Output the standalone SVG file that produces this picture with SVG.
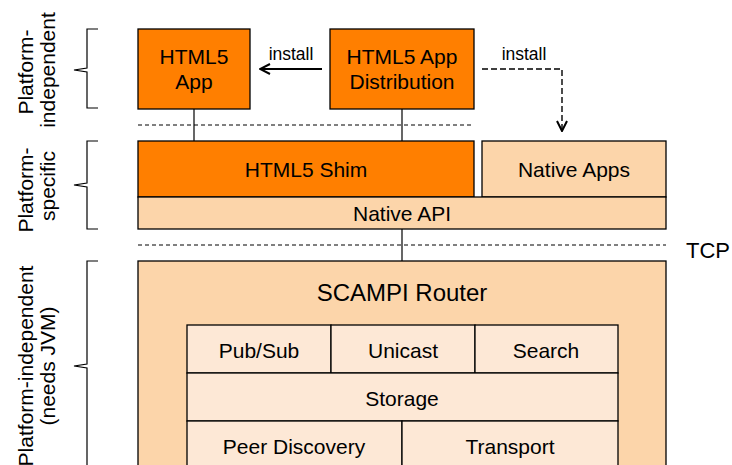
<svg xmlns="http://www.w3.org/2000/svg" width="732" height="465" viewBox="0 0 732 465">
<defs>
<style>
text{font-family:"Liberation Sans",Arial,sans-serif;fill:#000;text-anchor:middle}
.t{font-size:21px}
.b{font-size:24px}
.s{font-size:17.5px}
.or{fill:#FF7F00;stroke:#000;stroke-width:1.3}
.pe{fill:#FCD5AA;stroke:#000;stroke-width:1.3}
.li{fill:#FDE8D6;stroke:#000;stroke-width:1.3}
.ln{stroke:#000;stroke-width:1.2;fill:none}
.dsh{stroke:#000;stroke-width:1;stroke-dasharray:4 3;fill:none}
.br{stroke:#000;stroke-width:1.2;fill:none}
</style>
<marker id="ah" viewBox="0 0 12 12" refX="11" refY="6" markerWidth="12" markerHeight="12" markerUnits="userSpaceOnUse" orient="auto">
<path d="M1,1 L11,6 L1,11" fill="none" stroke="#000" stroke-width="2"/>
</marker>
</defs>
<rect width="732" height="465" fill="#fff"/>

<g id="labels">
<path class="br" d="M98,29 H87 V68 L74,70 L87,72 V108 H98"/>
<text class="t" transform="translate(33,72) rotate(-90)">Platform-</text>
<text class="t" transform="translate(55,70) rotate(-90)">independent</text>
<path class="br" d="M98,141 H87 V183 L74,185 L87,187 V229 H98"/>
<text class="t" transform="translate(33,190) rotate(-90)">Platform-</text>
<text class="t" transform="translate(55,186) rotate(-90)">specific</text>
<path class="br" d="M98,261 H87 V364 L74,366 L87,368 V470"/>
<text class="t" transform="translate(33,366) rotate(-90)">Platform-independent</text>
<text class="t" transform="translate(55,366) rotate(-90)">(needs JVM)</text>
</g>

<g id="connectors">
<line class="dsh" x1="138" y1="125" x2="472" y2="125"/>
<line class="dsh" x1="138" y1="245" x2="666" y2="245"/>
<line class="ln" x1="194" y1="109" x2="194" y2="141"/>
<line class="ln" x1="402" y1="109" x2="402" y2="141"/>
<line class="ln" x1="402" y1="229" x2="402" y2="261"/>
<line x1="322" y1="69" x2="260" y2="69" stroke="#000" stroke-width="1.8" marker-end="url(#ah)"/>
<text class="s" x="291" y="60">install</text>
<path d="M482,69 H562 V131" fill="none" stroke="#000" stroke-width="1.4" stroke-dasharray="6 3" marker-end="url(#ah)"/>
<text class="s" x="524" y="60">install</text>
<text class="t" x="708" y="258" style="font-size:22px">TCP</text>
</g>

<g id="html5-app">
<rect class="or" x="138" y="29" width="112" height="80"/>
<text class="t" x="194" y="64">HTML5</text>
<text class="t" x="194" y="89">App</text>
</g>
<g id="html5-dist">
<rect class="or" x="330" y="29" width="144" height="80"/>
<text class="t" x="402" y="64">HTML5 App</text>
<text class="t" x="402" y="89">Distribution</text>
</g>
<g id="html5-shim">
<rect class="or" x="138" y="141" width="336" height="56"/>
<text class="t" x="306" y="177">HTML5 Shim</text>
</g>
<g id="native-apps">
<rect class="pe" x="482" y="141" width="184" height="56"/>
<text class="t" x="574" y="177">Native Apps</text>
</g>
<g id="native-api">
<rect class="pe" x="138" y="197" width="528" height="32"/>
<text class="t" x="402" y="221">Native API</text>
</g>
<g id="scampi-router">
<rect class="pe" x="138" y="261" width="528" height="220"/>
<text class="b" x="402" y="301">SCAMPI Router</text>
</g>
<g id="pubsub">
<rect class="li" x="187" y="325" width="144" height="48"/>
<text class="t" x="259" y="358">Pub/Sub</text>
</g>
<g id="unicast">
<rect class="li" x="331" y="325" width="144" height="48"/>
<text class="t" x="403" y="358">Unicast</text>
</g>
<g id="search">
<rect class="li" x="475" y="325" width="143" height="48"/>
<text class="t" x="546" y="358">Search</text>
</g>
<g id="storage">
<rect class="li" x="187" y="373" width="431" height="48"/>
<text class="t" x="402" y="406">Storage</text>
</g>
<g id="peer-discovery">
<rect class="li" x="187" y="421" width="215" height="60"/>
<text class="t" x="294" y="454">Peer Discovery</text>
</g>
<g id="transport">
<rect class="li" x="402" y="421" width="216" height="60"/>
<text class="t" x="510" y="454">Transport</text>
</g>
</svg>
